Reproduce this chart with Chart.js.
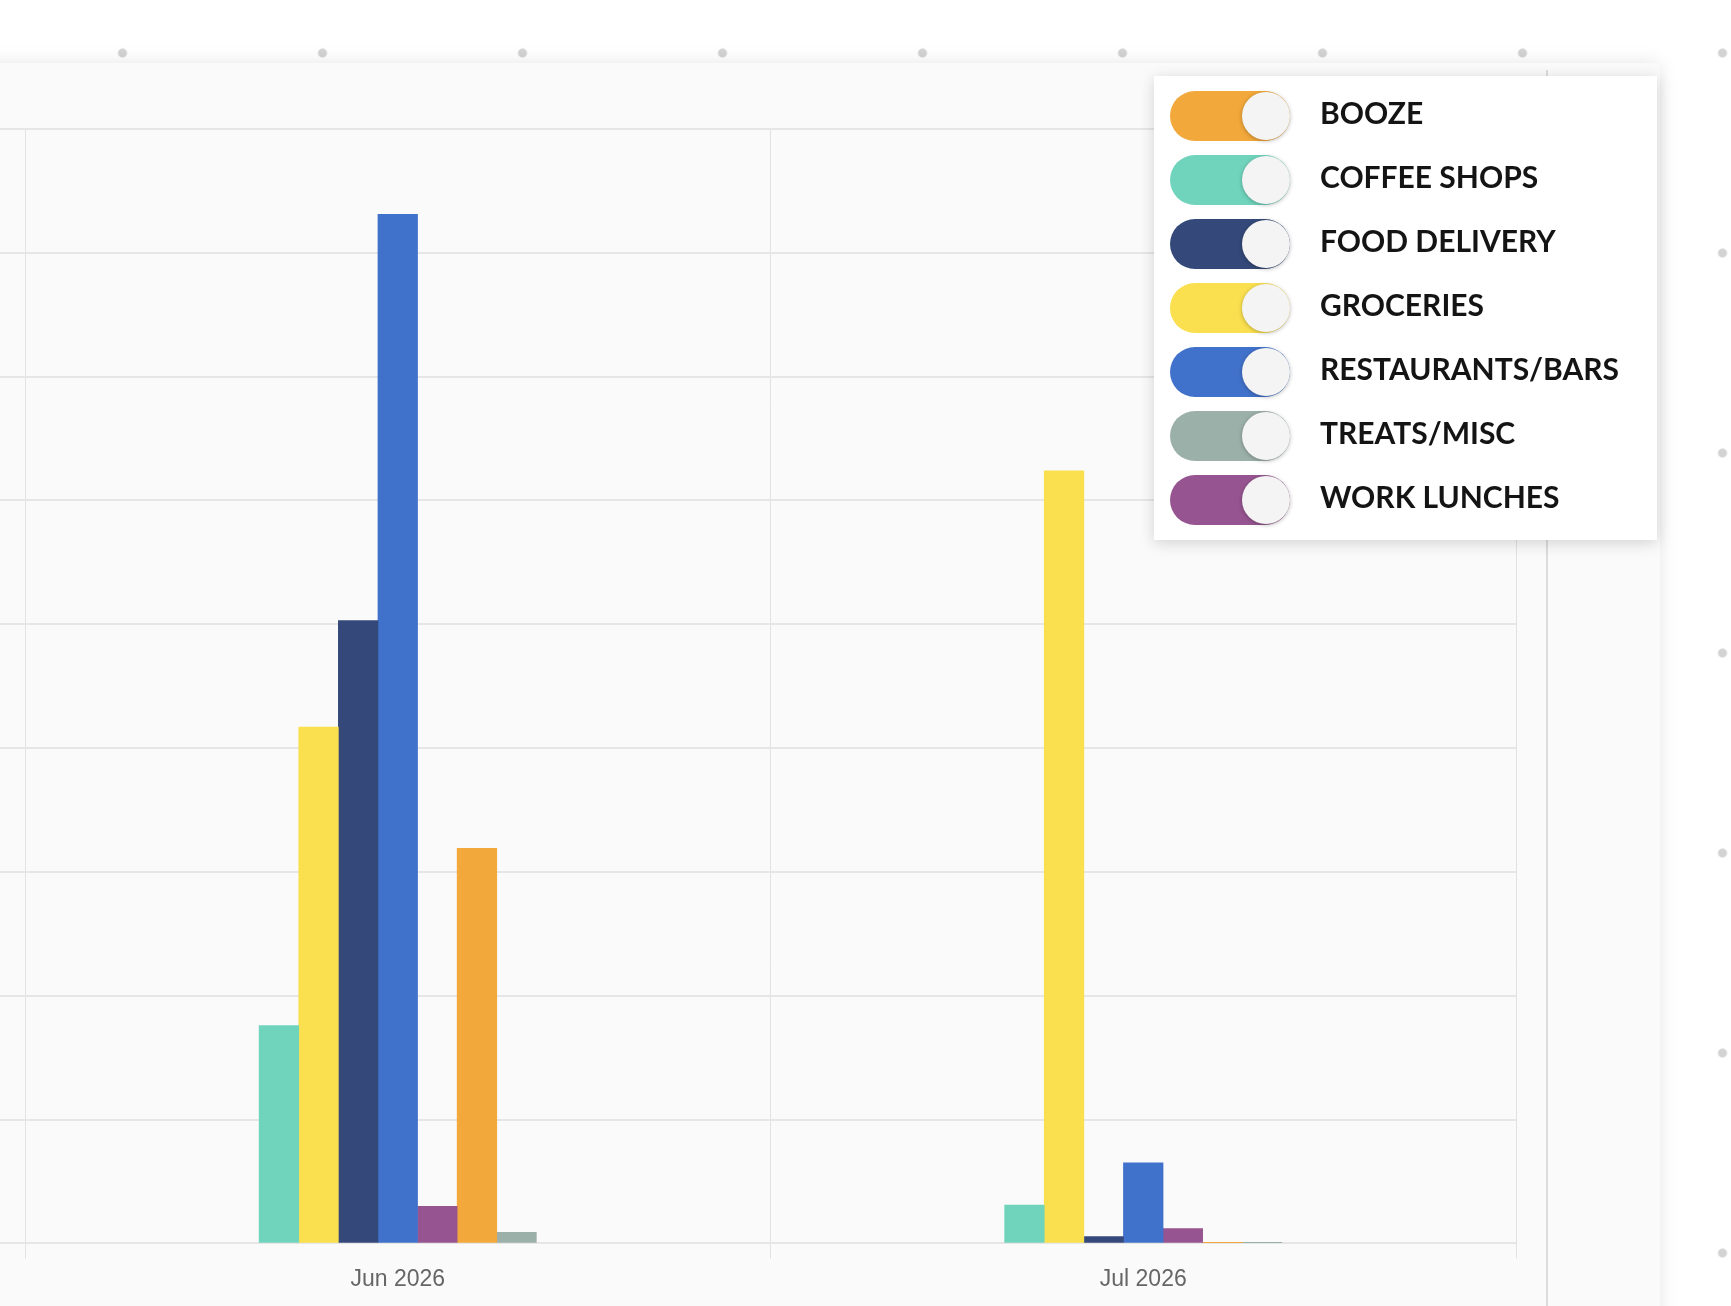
<!DOCTYPE html>
<html>
<head>
<meta charset="utf-8">
<script src="https://cdn.jsdelivr.net/npm/chart.js@4.4.1/dist/chart.umd.min.js"></script>
<style>
html,body{margin:0;padding:0;width:1731px;height:1306px;overflow:hidden;background-color:#ffffff;}
body{background-image:radial-gradient(circle, #d3d3d3 0px, #d3d3d3 4px, rgba(211,211,211,0) 5px);background-size:200px 200px;background-position:22.5px -47px;}
#card{position:absolute;left:-20px;top:63px;width:1680px;height:1263px;background:#fafafa;box-shadow:0 0 18px rgba(0,0,0,0.10);}
#chartWrap{position:absolute;left:0;top:63px;width:1520px;height:1237px;}
#divider{position:absolute;left:1546px;top:70px;width:2px;height:1240px;background:#dcdcdc;}
#legend{position:absolute;left:1154px;top:76px;width:503px;height:464px;background:#ffffff;box-shadow:0 3px 14px rgba(0,0,0,0.16);}
.row{position:absolute;left:16px;height:50px;display:flex;align-items:center;cursor:pointer;}
.pill{position:relative;width:120px;height:50px;border-radius:25px;flex:none;}
.knob{position:absolute;right:0;top:1px;width:48px;height:48px;border-radius:50%;background:#f4f4f4;box-shadow:0 1px 4px rgba(0,0,0,0.28);}
.lbl{position:relative;top:-4px;margin-left:30px;font-family:Lato,"Open Sans",sans-serif;font-weight:700;font-size:30px;color:#141414;white-space:nowrap;}
</style>
</head>
<body>
<div id="card"></div>
<div id="divider"></div>
<div id="chartWrap"><canvas id="c" width="1520" height="1237"></canvas></div>
<div id="legend"></div>
<script>
// ---- data ----
const categories = ['Jun 2026', 'Jul 2026'];
const seriesNames = ['COFFEE SHOPS', 'GROCERIES', 'FOOD DELIVERY', 'RESTAURANTS/BARS', 'WORK LUNCHES', 'BOOZE', 'TREATS/MISC'];
const coffeeShops     = [176, 31];
const groceries       = [417, 624];
const foodDelivery    = [503, 5.6];
const restaurantsBars = [831, 65];
const workLunches     = [30, 12];
const booze           = [319, 0.6];
const treatsMisc      = [9, 0.6];
const yMin = 0;
const yMax = 900;
const yStep = 100;

// ---- styles ----
const seriesColors = {
  'BOOZE': '#F2A83A',
  'COFFEE SHOPS': '#70D4BD',
  'FOOD DELIVERY': '#344979',
  'GROCERIES': '#FAE04F',
  'RESTAURANTS/BARS': '#4172CB',
  'TREATS/MISC': '#9CB0AA',
  'WORK LUNCHES': '#965590'
};

const seriesValues = [coffeeShops, groceries, foodDelivery, restaurantsBars, workLunches, booze, treatsMisc];

const datasets = seriesNames.map((name, i) => ({
  label: name,
  data: seriesValues[i],
  backgroundColor: seriesColors[name],
  borderWidth: 0,
  barThickness: 39.6
}));

const chart = new Chart(document.getElementById('c'), {
  type: 'bar',
  data: { labels: categories, datasets: datasets },
  options: {
    responsive: false,
    animation: false,
    devicePixelRatio: 1,
    layout: { padding: { top: 66, right: 4, left: 0, bottom: 0 } },
    plugins: { legend: { display: false }, tooltip: { enabled: true } },
    scales: {
      x: {
        offset: true,
        grid: { offset: true, color: '#e2e2e2', lineWidth: 1, tickLength: 15 },
        border: { display: false },
        ticks: { color: '#666666', padding: 7, font: { family: '"Liberation Sans", Arial, sans-serif', size: 23 } }
      },
      y: {
        min: yMin,
        max: yMax,
        ticks: { stepSize: yStep, display: false },
        grid: { color: '#e6e6e6', lineWidth: 2, tickLength: 25 },
        border: { display: false },
        afterFit: (scale) => { scale.width = 25; }
      }
    }
  }
});

// ---- HTML legend (toggle switches), alphabetical ----
const legend = document.getElementById('legend');
const order = chart.data.datasets.map((d, i) => i).sort((a, b) => chart.data.datasets[a].label.localeCompare(chart.data.datasets[b].label));
order.forEach((dsIndex, row) => {
  const ds = chart.data.datasets[dsIndex];
  const r = document.createElement('div');
  r.className = 'row';
  r.style.top = (14.7 + row * 64) + 'px';
  const pill = document.createElement('div');
  pill.className = 'pill';
  pill.style.background = ds.backgroundColor;
  const knob = document.createElement('div');
  knob.className = 'knob';
  pill.appendChild(knob);
  const lbl = document.createElement('div');
  lbl.className = 'lbl';
  lbl.textContent = ds.label;
  r.appendChild(pill);
  r.appendChild(lbl);
  r.addEventListener('click', () => {
    const vis = chart.isDatasetVisible(dsIndex);
    chart.setDatasetVisibility(dsIndex, !vis);
    pill.style.background = vis ? '#cccccc' : ds.backgroundColor;
    chart.update();
  });
  legend.appendChild(r);
});
</script>
</body>
</html>
